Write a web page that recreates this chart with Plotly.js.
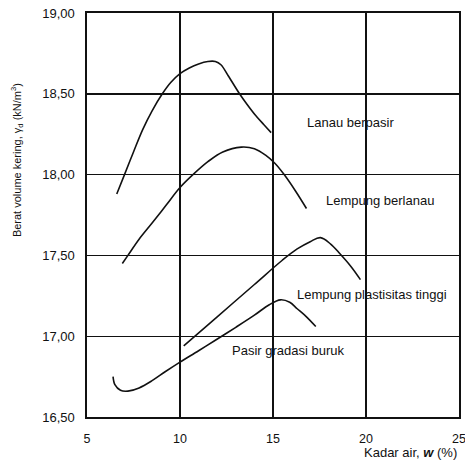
<!DOCTYPE html>
<html><head><meta charset="utf-8">
<script src="https://cdn.plot.ly/plotly-3.0.1.min.js"></script>
<style>html,body{margin:0;padding:0;background:#fff;}#chart{width:465px;height:464px;}</style>
</head><body><div id="chart"></div>
<script>
const lanauX = [6.6, 7.0, 7.5, 8.0, 8.5, 9.05, 9.5, 10.0, 10.5, 11.0, 11.5, 11.9, 12.2, 12.6, 13.2, 13.6, 14.0, 14.5, 14.9];
const lanauY = [17.88, 17.995, 18.14, 18.28, 18.395, 18.5, 18.57, 18.625, 18.66, 18.685, 18.70, 18.70, 18.68, 18.61, 18.5, 18.435, 18.375, 18.31, 18.26];
const berlanauX = [6.9, 7.2, 7.8, 8.5, 9.25, 10.0, 10.7, 11.5, 12.3, 13.3, 14.0, 14.6, 15.1, 15.6, 16.2, 16.8];
const berlanauY = [17.45, 17.5, 17.6, 17.70, 17.81, 17.92, 18.0, 18.08, 18.14, 18.17, 18.16, 18.12, 18.07, 18.0, 17.9, 17.79];
const plastisX = [10.2, 12.0, 14.0, 15.5, 16.3, 17.0, 17.55, 18.1, 18.6, 19.2, 19.7];
const plastisY = [16.94, 17.12, 17.32, 17.47, 17.54, 17.585, 17.61, 17.57, 17.51, 17.43, 17.35];
const pasirX = [6.4, 6.5, 6.8, 7.2, 7.8, 8.5, 9.2, 10.0, 11.0, 11.9, 13.0, 14.0, 14.8, 15.4, 15.9, 16.3, 16.8, 17.3];
const pasirY = [16.75, 16.70, 16.665, 16.66, 16.68, 16.725, 16.78, 16.84, 16.91, 16.975, 17.055, 17.13, 17.195, 17.225, 17.21, 17.17, 17.12, 17.06];
const xTickVals = [5, 10, 15, 20, 25];
const xTickText = ['5', '10', '15', '20', '25'];
const yTickVals = [16.5, 17.0, 17.5, 18.0, 18.5, 19.0];
const yTickText = ['16,50', '17,00', '17,50', '18,00', '18,50', '19,00'];
const labels = ['Lanau berpasir', 'Lempung berlanau', 'Lempung plastisitas tinggi', 'Pasir gradasi buruk'];
const labelX = [19.14, 20.75, 20.32, 15.78];
const labelY = [18.32, 17.84, 17.26, 16.91];

const font = 'Liberation Sans, Arial, sans-serif';
const line = {color: '#111', width: 1.6, shape: 'spline', smoothing: 1};
const traces = [[lanauX, lanauY], [berlanauX, berlanauY], [plastisX, plastisY], [pasirX, pasirY]].map(
  ([x, y], i) => ({x: x, y: y, mode: 'lines', type: 'scatter', line: line, name: labels[i], hoverinfo: 'skip'}));

const ann = labels.map((t, i) => ({x: labelX[i], y: labelY[i], xref: 'x', yref: 'y', text: t, showarrow: false,
  font: {family: font, size: 13, color: '#111'}}));
ann.push({xref: 'paper', yref: 'paper', x: 1.0, y: -0.089, xanchor: 'right', yanchor: 'middle', showarrow: false,
  text: 'Kadar air, <b><i>w</i></b> (%)', font: {family: font, size: 13, color: '#111'}});
ann.push({xref: 'paper', yref: 'paper', x: -0.188, y: 0.636, xanchor: 'center', yanchor: 'middle', showarrow: false,
  textangle: -90, text: 'Berat volume kering, γ<sub>d</sub> (kN/m<sup>3</sup>)', font: {family: font, size: 11, color: '#111'}});

const layout = {
  width: 465, height: 464,
  margin: {l: 87, r: 6, t: 13, b: 47},
  paper_bgcolor: '#fff', plot_bgcolor: '#fff',
  showlegend: false,
  xaxis: {range: [5, 25], tickvals: xTickVals, ticktext: xTickText, showgrid: true, gridcolor: '#111', gridwidth: 1.4,
    zeroline: false, showline: true, linecolor: '#111', linewidth: 1.6, mirror: true, ticklabeloverflow: 'allow',
    ticks: 'outside', ticklen: 9, tickcolor: 'rgba(0,0,0,0)', tickfont: {family: font, size: 12.5, color: '#111'}},
  yaxis: {range: [16.5, 19.0], tickvals: yTickVals, ticktext: yTickText, showgrid: true, gridcolor: '#111', gridwidth: 1.4,
    zeroline: false, showline: true, linecolor: '#111', linewidth: 1.6, mirror: true,
    ticks: 'outside', ticklen: 8, tickcolor: 'rgba(0,0,0,0)', tickfont: {family: font, size: 13, color: '#111'}},
  annotations: ann
};
Plotly.newPlot('chart', traces, layout, {staticPlot: true, displayModeBar: false});
</script></body></html>
